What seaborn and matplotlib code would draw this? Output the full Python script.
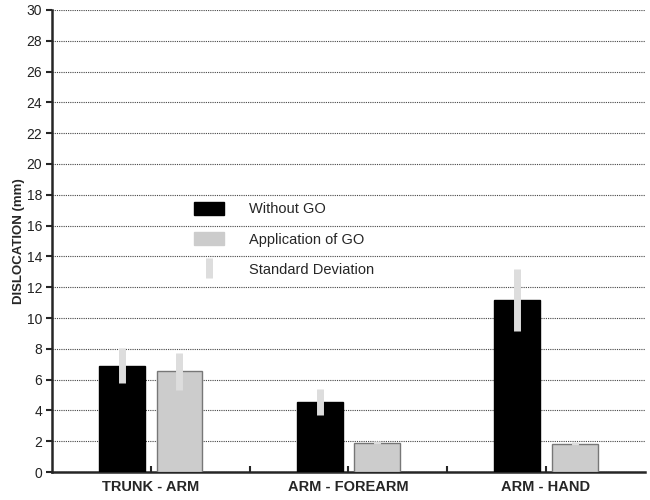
import matplotlib
matplotlib.use("Agg")
import matplotlib.pyplot as plt
import matplotlib.patches as mpatches
from matplotlib.lines import Line2D
import seaborn as sns
import pandas as pd

pairs = ["TRUNK - ARM", "ARM - FOREARM", "ARM - HAND"]
groups = ["Without GO", "Application of GO"]
without_go = [6.9, 4.55, 11.15]
with_go = [6.55, 1.9, 1.85]
without_sd = [1.15, 0.85, 2.0]
with_sd = [1.2, 0.1, 0.1]
y_ticks = list(range(0, 31, 2))

df = pd.DataFrame({
    "pair": pairs * 2,
    "group": [groups[0]] * 3 + [groups[1]] * 3,
    "value": without_go + with_go,
    "sd": without_sd + with_sd,
})

sns.set_style("ticks")
plt.rcParams["font.family"] = ["Liberation Sans", "DejaVu Sans"]

fig = plt.figure(figsize=(6.5, 5), dpi=100)
ax = fig.add_axes([0.08, 0.056, 0.912, 0.924])

colors = {groups[0]: "#000000", groups[1]: "#cccccc"}
sns.barplot(data=df, x="pair", y="value", hue="group", hue_order=groups,
            palette=colors, width=0.58, gap=0.2, errorbar=None,
            legend=False, ax=ax, zorder=3)

# edges: black bars black, gray bars darker gray
for p, g in zip(ax.patches, df["group"]):
    p.set_edgecolor("#000000" if g == groups[0] else "#777777")
    p.set_linewidth(1.0)

# standard deviation bars on patch centers
for p, sd in zip(ax.patches, df["sd"]):
    cx = p.get_x() + p.get_width() / 2
    top = p.get_height()
    ax.vlines(cx, top - sd, top + sd, colors="#dddddd", linewidth=5, zorder=4)

ax.set_ylim(0, 30)
ax.set_xlim(-0.5, 2.5)
ax.set_yticks(y_ticks)
ax.set_xticks([0.5, 1.5], minor=True)
ax.yaxis.grid(True, linestyle=(0, (1, 1)), color="#444444", linewidth=0.8, zorder=0)
ax.set_axisbelow(True)

for s in ["top", "right"]:
    ax.spines[s].set_visible(False)
ax.spines["left"].set_linewidth(1.8)
ax.spines["bottom"].set_linewidth(1.8)

ax.tick_params(axis="y", direction="out", length=4, width=1.5, labelsize=10, pad=3,
               labelcolor="#222222")
ax.tick_params(axis="x", which="both", direction="in", length=4, width=1.5,
               labelsize=10.5, pad=6)
for lbl in ax.get_xticklabels():
    lbl.set_fontweight("bold")

ax.set_xlabel("")
ax.set_ylabel("DISLOCATION (mm)", fontsize=9.5, fontweight="bold", labelpad=1)

handles = [
    mpatches.Patch(facecolor="#000000", edgecolor="#000000", label=groups[0]),
    mpatches.Patch(facecolor="#cccccc", edgecolor="#cccccc", label=groups[1]),
    Line2D([], [], color="#dddddd", marker="|", linestyle="none", markersize=15,
           markeredgewidth=5, label="Standard Deviation"),
]
leg = ax.legend(handles=handles, loc="upper left", bbox_to_anchor=(0.227, 0.6),
                frameon=False, fontsize=10.5, handlelength=2.1, handleheight=0.95,
                handletextpad=1.65, labelspacing=1.1, borderpad=0)

fig.savefig("out.png", dpi=100)
